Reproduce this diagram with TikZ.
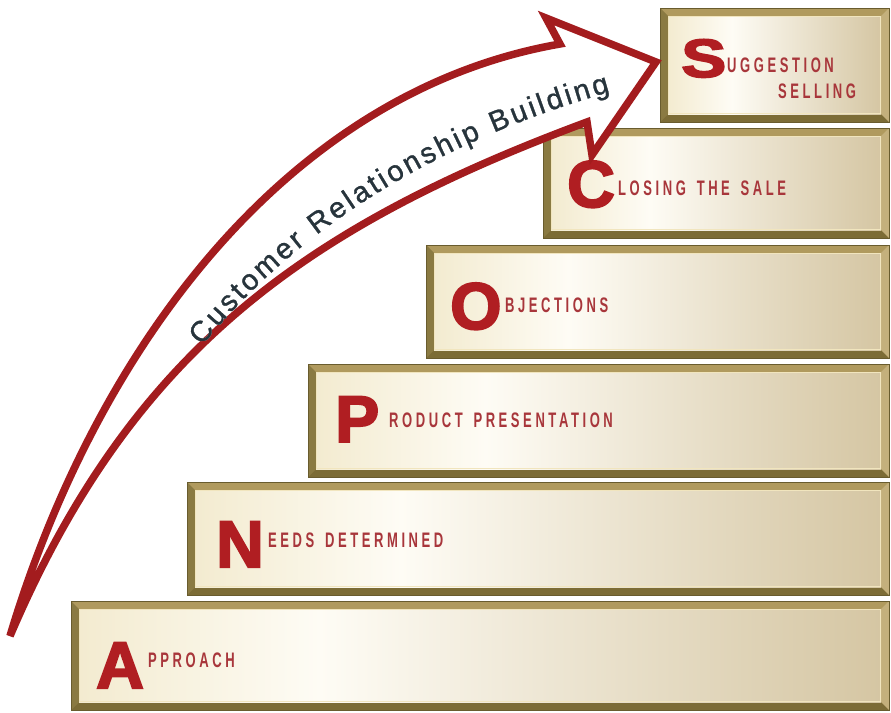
\documentclass[tikz,border=0pt]{standalone}
\usepackage{fontspec}
\setmainfont{Liberation Sans}
\usetikzlibrary{decorations.text}
\newfontfamily\bigfam{Liberation Sans}[BoldFeatures={FakeBold=3}]
\newfontfamily\smallfam{Liberation Sans}[FakeStretch=0.62, LetterSpace=17, WordSpace=1.5]
\newfontfamily\arrowfam{Liberation Sans}[FakeBold=0.8]
\newcommand\arrowfont{\arrowfam\fontsize{29pt}{29pt}\selectfont}
\definecolor{bigred}{HTML}{B01E22}
\definecolor{smallred}{HTML}{A8363B}
\definecolor{arrowred}{HTML}{A31C1E}
\definecolor{txtdark}{HTML}{27343C}
\definecolor{bordgold}{HTML}{B09A5E}
\definecolor{bordleft}{HTML}{8A7A42}
\definecolor{bordbot}{HTML}{7C6C36}
\definecolor{bordright}{HTML}{C4B07C}
\definecolor{shadeL}{HTML}{F3EBD0}
\definecolor{shadeM}{HTML}{FEFCF5}
\definecolor{shadeR}{HTML}{D5C6A3}
\definecolor{hilite}{HTML}{F1E5BE}
\pgfdeclarehorizontalshading{boxshade}{100bp}{color(0bp)=(shadeL); color(25bp)=(shadeL); color(40bp)=(shadeM); color(75bp)=(shadeR); color(100bp)=(shadeR)}
\tikzset{
  stairbox/.style={rectangle, inner sep=0pt, outer sep=0pt, fill=bordgold,
    draw=bordbot!85!black, line width=0.6pt,
    path picture={
      \coordinate (bnw) at (path picture bounding box.north west);
      \coordinate (bne) at (path picture bounding box.north east);
      \coordinate (bsw) at (path picture bounding box.south west);
      \coordinate (bse) at (path picture bounding box.south east);
      \fill[bordleft] (bnw) -- ([shift={(8pt,-8pt)}]bnw) -- ([shift={(8pt,8pt)}]bsw) -- (bsw) -- cycle;
      \fill[bordbot] (bsw) -- ([shift={(8pt,8pt)}]bsw) -- ([shift={(-8pt,8pt)}]bse) -- (bse) -- cycle;
      \fill[bordright] (bse) -- ([shift={(-8pt,8pt)}]bse) -- ([shift={(-8pt,-8pt)}]bne) -- (bne) -- cycle;
      \shade[shading=boxshade] ([shift={(8pt,8pt)}]bsw) rectangle ([shift={(-8pt,-8pt)}]bne);
      \draw[hilite, line width=1pt] ([shift={(8.5pt,8.5pt)}]bsw) rectangle ([shift={(-8.5pt,-8.5pt)}]bne);
    }},
  bigletter/.style={inner sep=0pt, anchor=base west, text=bigred,
    font=\bigfam\bfseries\fontsize{66pt}{66pt}\selectfont},
  smalltxt/.style={inner sep=0pt, anchor=base west, text=smallred,
    font=\smallfam\bfseries\fontsize{21pt}{21pt}\selectfont},
  crbarrow/.style={draw=arrowred, line width=7.5pt, fill=white, line join=miter, miter limit=10},
}
\begin{document}
\begin{tikzpicture}[x=1pt, y=-1pt]
\useasboundingbox (0,0) rectangle (891,712);
\fill[white] (0,0) rectangle (891,712);
% boxes
\node[stairbox, minimum width=229pt, minimum height=114pt] (boxS) at (774.5,65) {};
\node[stairbox, minimum width=346pt, minimum height=110pt] (boxC) at (716,183) {};
\node[stairbox, minimum width=463pt, minimum height=113pt] (boxO) at (657.5,301.5) {};
\node[stairbox, minimum width=581pt, minimum height=113pt] (boxP) at (598.5,420.5) {};
\node[stairbox, minimum width=702pt, minimum height=113pt] (boxN) at (538,538.5) {};
\node[stairbox, minimum width=818pt, minimum height=109pt] (boxA) at (480,655.5) {};
% letters
\node[bigletter, font=\bigfam\bfseries\fontsize{54pt}{54pt}\selectfont, xscale=1.25] (lS) at (681,77) {S};
\node[smalltxt] (tS1) at (727,72) {UGGESTION};
\node[smalltxt] (tS2) at (778,98) {SELLING};
\node[bigletter] (lC) at (567,207) {C};
\node[smalltxt] (tC) at (618,195) {LOSING THE SALE};
\node[bigletter] (lO) at (450,329) {O};
\node[smalltxt] (tO) at (505,312) {BJECTIONS};
\node[bigletter] (lP) at (335,442) {P};
\node[smalltxt] (tP) at (389,427) {RODUCT PRESENTATION};
\node[bigletter] (lN) at (216,567) {N};
\node[smalltxt] (tN) at (268,547) {EEDS DETERMINED};
\node[bigletter] (lA) at (96,688) {A};
\node[smalltxt] (tA) at (148,667) {PPROACH};
% arrow
\path[crbarrow] (10,636) .. controls (95,352) and (285,92) .. (560,44) -- (546,18) -- (656,62) -- (592,155) -- (587,122) .. controls (307,226) and (132,350) .. (10,636) -- cycle;
\path[transform canvas={shift={(1.5pt,-2pt)}}, decorate, decoration={text along path, text={|\arrowfont|Customer Relationship Building}, text color=black!20, text align={fit to path}}] (202,346) .. controls (292,234) and (432,142) .. (610,92);
\path[decorate, decoration={text along path, text={|\arrowfont|Customer Relationship Building}, text color=txtdark, text align={fit to path}}] (202,346) .. controls (292,234) and (432,142) .. (610,92);
\end{tikzpicture}
\end{document}
